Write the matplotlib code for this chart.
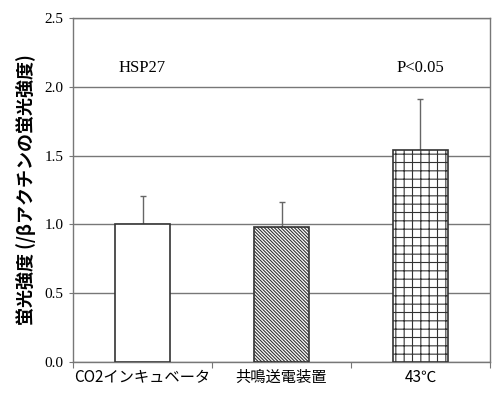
import matplotlib
matplotlib.use("Agg")
import matplotlib.pyplot as plt
import numpy as np

categories = ["CO2インキュベータ", "共鳴送電装置", "43℃"]
values = [1.00, 0.98, 1.54]
errors = [0.21, 0.18, 0.37]
hatches = ["", "\\\\\\\\\\\\\\\\\\\\", "++"]
yticks = [0.0, 0.5, 1.0, 1.5, 2.0, 2.5]

plt.rcParams['hatch.linewidth'] = 0.8
plt.rcParams['hatch.color'] = '#444444'

fig = plt.figure(figsize=(4.92, 3.94), dpi=100)
ax = fig.add_axes([73/492, 32/394, 417/492, 344/394])

x = np.arange(len(categories))
bars = ax.bar(x, values, width=0.4, color='white', edgecolor='#333333',
              linewidth=1.2, zorder=3)
for b, h in zip(bars, hatches):
    b.set_hatch(h)
ax.errorbar(x, values, yerr=[np.zeros(len(errors)), errors], fmt='none',
            ecolor='#666666', elinewidth=1.0, capsize=2, capthick=1.0, zorder=2)

ax.set_xlim(-0.5, len(categories) - 0.5)
ax.set_ylim(0, 2.5)
ax.set_yticks(yticks)
ax.set_yticklabels([f"{v:.1f}" for v in yticks], fontfamily='Liberation Serif', fontsize=11)
ax.yaxis.grid(True, color='#777777', linewidth=1.0, zorder=0)
ax.set_axisbelow(True)

ax.set_xticks(np.arange(-0.5, len(categories) + 0.5, 1.0))
ax.set_xticklabels([])
ax.set_xticks(x, minor=True)
ax.set_xticklabels(categories, minor=True,
                   fontfamily=['Noto Sans CJK JP', 'DejaVu Sans'], fontsize=11)
ax.tick_params(axis='x', which='minor', length=0, pad=5)
ax.tick_params(axis='x', which='major', length=4, color='#777777', direction='out')
ax.tick_params(axis='y', length=3, color='#777777', pad=4)

for s in ax.spines.values():
    s.set_color('#777777')
    s.set_linewidth(1.0)

ax.set_ylabel("蛍光強度 (/βアクチンの蛍光強度)", fontfamily=['Noto Sans CJK JP', 'DejaVu Sans'],
              fontsize=13, fontweight='bold', labelpad=6)

ax.text(0, 2.08, "HSP27", ha='center', va='bottom', fontfamily='Liberation Serif', fontsize=12)
ax.text(2, 2.08, "P<0.05", ha='center', va='bottom', fontfamily='Liberation Serif', fontsize=12)

fig.savefig("out.png", dpi=100)
